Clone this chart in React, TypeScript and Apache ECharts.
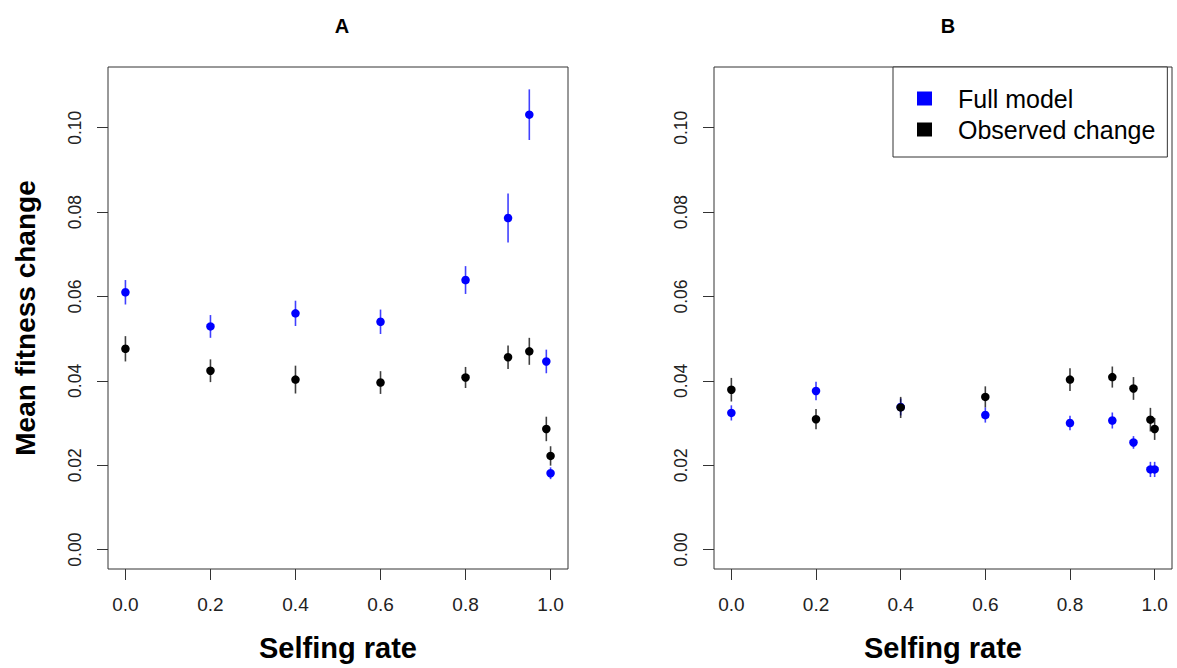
import React, { useEffect, useRef } from "react";
import * as echarts from "echarts";

const selfing = [0, 0.2, 0.4, 0.6, 0.8, 0.9, 0.95, 0.99, 1.0];
const xTicks = [0, 0.2, 0.4, 0.6, 0.8, 1.0];
const yTicks = [0, 0.02, 0.04, 0.06, 0.08, 0.1];

const fullA = [0.061, 0.0529, 0.056, 0.054, 0.0639, 0.0786, 0.1031, 0.0446, 0.0181];
const fullAse = [0.0029, 0.0027, 0.003, 0.0029, 0.0033, 0.0058, 0.006, 0.0028, 0.0014];
const obsA = [0.0476, 0.0424, 0.0403, 0.0396, 0.0408, 0.0456, 0.047, 0.0286, 0.0222];
const obsAse = [0.003, 0.0027, 0.0033, 0.0027, 0.0025, 0.0028, 0.0032, 0.0029, 0.0023];

const fullB = [0.0324, 0.0376, 0.0338, 0.0319, 0.03, 0.0306, 0.0254, 0.019, 0.019];
const fullBse = [0.0018, 0.0022, 0.002, 0.0018, 0.0017, 0.0019, 0.0015, 0.0018, 0.0018];
const obsB = [0.0379, 0.0309, 0.0337, 0.0362, 0.0403, 0.0409, 0.0382, 0.0308, 0.0286];
const obsBse = [0.0028, 0.0024, 0.0025, 0.0025, 0.0027, 0.0025, 0.0027, 0.0028, 0.0026];

const FONT = "'Liberation Sans', Arial, sans-serif";
const BLUE = "#0000ff";
const BLACK = "#000000";

function errSeries(name: string, idx: number, means: number[], ses: number[], color: string) {
  return {
    type: "custom",
    name: name + " err",
    xAxisIndex: idx,
    yAxisIndex: idx,
    silent: true,
    data: selfing.map((x, i) => [x, means[i] - ses[i], means[i] + ses[i]]),
    renderItem: (params: any, api: any) => {
      const p1 = api.coord([api.value(0), api.value(1)]);
      const p2 = api.coord([api.value(0), api.value(2)]);
      return {
        type: "line",
        shape: { x1: p1[0], y1: p1[1], x2: p2[0], y2: p2[1] },
        style: { stroke: color, lineWidth: 1.6, opacity: 0.75 },
      };
    },
    z: 2,
  };
}

function pointSeries(name: string, idx: number, means: number[], color: string) {
  return {
    type: "scatter",
    name,
    xAxisIndex: idx,
    yAxisIndex: idx,
    symbol: "circle",
    symbolSize: 8.5,
    itemStyle: { color, opacity: 1 },
    data: selfing.map((x, i) => [x, means[i]]),
    z: 3,
  };
}

function xAxis(idx: number) {
  return {
    type: "value",
    gridIndex: idx,
    min: -0.041,
    max: 1.041,
    name: "Selfing rate",
    nameLocation: "middle",
    nameGap: 64,
    nameTextStyle: { fontFamily: FONT, fontSize: 29, fontWeight: "bold", color: "#000" },
    axisLine: { show: false, onZero: false },
    splitLine: { show: false },
    axisTick: {
      show: true,
      length: 11,
      customValues: xTicks,
      lineStyle: { color: "#333", width: 1 },
    },
    axisLabel: {
      customValues: xTicks,
      formatter: (v: number) => v.toFixed(1),
      fontFamily: FONT,
      fontSize: 19,
      color: "#222",
      margin: 26,
    },
  };
}

function yAxis(idx: number) {
  return {
    type: "value",
    gridIndex: idx,
    min: -0.0046,
    max: 0.1144,
    name: idx === 0 ? "Mean fitness change" : "",
    nameLocation: "middle",
    nameGap: 69,
    nameRotate: 90,
    nameTextStyle: { fontFamily: FONT, fontSize: 28, fontWeight: "bold", color: "#000" },
    axisLine: { show: false, onZero: false },
    splitLine: { show: false },
    axisTick: {
      show: true,
      length: 11,
      customValues: yTicks,
      lineStyle: { color: "#333", width: 1 },
    },
    axisLabel: {
      customValues: yTicks,
      formatter: (v: number) => v.toFixed(2),
      rotate: 90,
      fontFamily: FONT,
      fontSize: 17.5,
      color: "#222",
      margin: 24,
    },
  };
}

export default function App() {
  const ref = useRef<HTMLDivElement>(null);
  useEffect(() => {
    document.body.style.margin = "0";
    if (!ref.current) return;
    const chart = echarts.init(ref.current, null, { renderer: "svg" });
    chart.setOption({
      animation: false,
      backgroundColor: "#ffffff",
      title: [
        {
          text: "A",
          left: 337,
          top: 11,
          textAlign: "center",
          textStyle: { fontFamily: FONT, fontSize: 20, fontWeight: "bold", color: "#000" },
        },
        {
          text: "B",
          left: 943,
          top: 11,
          textAlign: "center",
          textStyle: { fontFamily: FONT, fontSize: 20, fontWeight: "bold", color: "#000" },
        },
      ],
      legend: {
        data: ["Full model", "Observed change"],
        orient: "vertical",
        left: 893,
        top: 67,
        icon: "rect",
        itemWidth: 15,
        itemHeight: 14,
        itemGap: 6,
        padding: [19, 12, 15, 24],
        borderColor: "#333",
        borderWidth: 1,
        borderRadius: 0,
        backgroundColor: "#fff",
        selectedMode: false,
        textStyle: { fontFamily: FONT, fontSize: 25, color: "#000", padding: [0, 0, 0, 21] },
      },
      grid: [
        { left: 108, top: 67, width: 460, height: 502, show: true, borderColor: "#333", borderWidth: 1, backgroundColor: "transparent" },
        { left: 714, top: 67, width: 458, height: 502, show: true, borderColor: "#333", borderWidth: 1, backgroundColor: "transparent" },
      ],
      xAxis: [xAxis(0), xAxis(1)],
      yAxis: [yAxis(0), yAxis(1)],
      series: [
        errSeries("Full model", 0, fullA, fullAse, BLUE),
        pointSeries("Full model", 0, fullA, BLUE),
        errSeries("Observed change", 0, obsA, obsAse, BLACK),
        pointSeries("Observed change", 0, obsA, BLACK),
        errSeries("Full model", 1, fullB, fullBse, BLUE),
        pointSeries("Full model", 1, fullB, BLUE),
        errSeries("Observed change", 1, obsB, obsBse, BLACK),
        pointSeries("Observed change", 1, obsB, BLACK),
      ],
    });
    return () => chart.dispose();
  }, []);
  return <div ref={ref} style={{ width: 1177, height: 668 }} />;
}
